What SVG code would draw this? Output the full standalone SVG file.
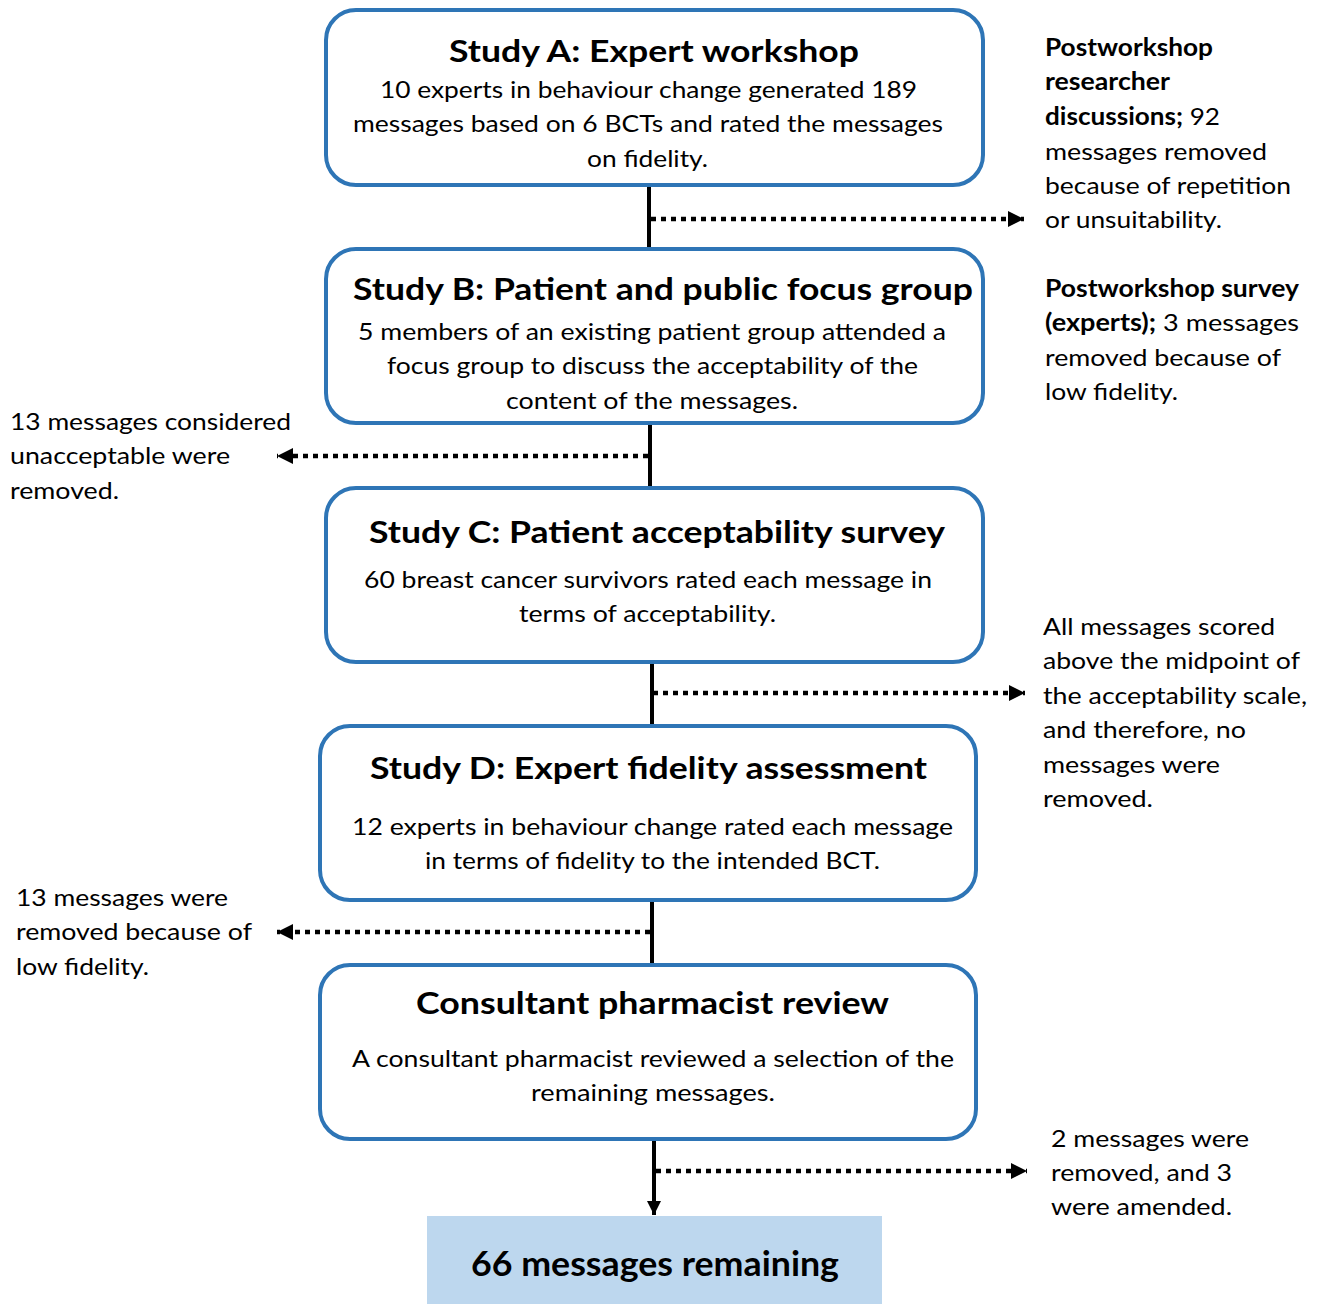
<svg xmlns="http://www.w3.org/2000/svg" width="1321" height="1304" viewBox="0 0 1321 1304">
<defs>
<style>
.box{fill:#fff;stroke:#2E75B6;stroke-width:4}
.final{fill:#BDD7EE;stroke:none}
text{font-family:Lato,"Open Sans","Liberation Sans",sans-serif;fill:#000}
.t{font-size:31px;font-weight:bold;text-anchor:middle}
.b{font-size:24px;text-anchor:middle}
.s{font-size:24px}
.bd{font-weight:bold}
.f{font-size:34px;font-weight:bold;text-anchor:middle}
.solid{stroke:#000;stroke-width:4;fill:none}
.dot{stroke:#000;stroke-width:4.5;fill:none;stroke-dasharray:5 5}
</style>
<marker id="ah" viewBox="0 0 10 10" refX="10" refY="5" markerWidth="3.6" markerHeight="3.6" orient="auto" markerUnits="strokeWidth">
<path d="M0,0 L10,5 L0,10 z" fill="#000"/>
</marker>
</defs>

<g id="connectors">
<line class="solid" x1="649" y1="185" x2="649" y2="249"/>
<line class="solid" x1="650" y1="423" x2="650" y2="488"/>
<line class="solid" x1="652" y1="662" x2="652" y2="726"/>
<line class="solid" x1="652" y1="900" x2="652" y2="965"/>
<line class="solid" x1="654" y1="1139" x2="654" y2="1215" marker-end="url(#ah)"/>
<line class="dot" x1="651" y1="219" x2="1024" y2="219" marker-end="url(#ah)"/>
<line class="dot" x1="648" y1="456" x2="277" y2="456" marker-end="url(#ah)"/>
<line class="dot" x1="653" y1="693" x2="1025" y2="693" marker-end="url(#ah)"/>
<line class="dot" x1="650" y1="932" x2="277" y2="932" marker-end="url(#ah)"/>
<line class="dot" x1="656" y1="1171" x2="1027" y2="1171" marker-end="url(#ah)"/>
</g>

<g id="studyA">
<rect class="box" x="326" y="10" width="657" height="175" rx="30"/>
<text class="t" x="654" y="62" textLength="410" lengthAdjust="spacingAndGlyphs">Study A: Expert workshop</text>
<text class="b" x="648.5" y="98" textLength="537" lengthAdjust="spacingAndGlyphs">10 experts in behaviour change generated 189</text>
<text class="b" x="648" y="132" textLength="590" lengthAdjust="spacingAndGlyphs">messages based on 6 BCTs and rated the messages</text>
<text class="b" x="647.5" y="167" textLength="121" lengthAdjust="spacingAndGlyphs">on fidelity.</text>
</g>

<g id="studyB">
<rect class="box" x="326" y="249" width="657" height="174" rx="30"/>
<text class="t" x="663" y="300" textLength="620" lengthAdjust="spacingAndGlyphs">Study B: Patient and public focus group</text>
<text class="b" x="652" y="340" textLength="588" lengthAdjust="spacingAndGlyphs">5 members of an existing patient group attended a</text>
<text class="b" x="652.5" y="374" textLength="531" lengthAdjust="spacingAndGlyphs">focus group to discuss the acceptability of the</text>
<text class="b" x="652" y="409" textLength="292" lengthAdjust="spacingAndGlyphs">content of the messages.</text>
</g>

<g id="studyC">
<rect class="box" x="326" y="488" width="657" height="174" rx="30"/>
<text class="t" x="657" y="543" textLength="576" lengthAdjust="spacingAndGlyphs">Study C: Patient acceptability survey</text>
<text class="b" x="648" y="588" textLength="568" lengthAdjust="spacingAndGlyphs">60 breast cancer survivors rated each message in</text>
<text class="b" x="647.5" y="622" textLength="257" lengthAdjust="spacingAndGlyphs">terms of acceptability.</text>
</g>

<g id="studyD">
<rect class="box" x="320" y="726" width="656" height="174" rx="30"/>
<text class="t" x="648.5" y="779" textLength="557" lengthAdjust="spacingAndGlyphs">Study D: Expert fidelity assessment</text>
<text class="b" x="652.5" y="835" textLength="601" lengthAdjust="spacingAndGlyphs">12 experts in behaviour change rated each message</text>
<text class="b" x="652.5" y="869" textLength="455" lengthAdjust="spacingAndGlyphs">in terms of fidelity to the intended BCT.</text>
</g>

<g id="review">
<rect class="box" x="320" y="965" width="656" height="174" rx="30"/>
<text class="t" x="652.5" y="1014" textLength="473" lengthAdjust="spacingAndGlyphs">Consultant pharmacist review</text>
<text class="b" x="653" y="1067" textLength="602" lengthAdjust="spacingAndGlyphs">A consultant pharmacist reviewed a selection of the</text>
<text class="b" x="653" y="1101" textLength="244" lengthAdjust="spacingAndGlyphs">remaining messages.</text>
</g>

<g id="remaining">
<rect class="final" x="427" y="1216" width="455" height="88"/>
<text class="f" x="655" y="1276" textLength="368" lengthAdjust="spacingAndGlyphs">66 messages remaining</text>
</g>

<g id="noteA">
<text class="s bd" x="1045" y="56" textLength="168" lengthAdjust="spacingAndGlyphs">Postworkshop</text>
<text class="s bd" x="1045" y="90" textLength="125" lengthAdjust="spacingAndGlyphs">researcher</text>
<text class="s" x="1045" y="125" textLength="175" lengthAdjust="spacingAndGlyphs"><tspan class="bd">discussions;</tspan> 92</text>
<text class="s" x="1045" y="160" textLength="222" lengthAdjust="spacingAndGlyphs">messages removed</text>
<text class="s" x="1045" y="194" textLength="246" lengthAdjust="spacingAndGlyphs">because of repetition</text>
<text class="s" x="1045" y="228" textLength="177" lengthAdjust="spacingAndGlyphs">or unsuitability.</text>
<text class="s bd" x="1045" y="297" textLength="254" lengthAdjust="spacingAndGlyphs">Postworkshop survey</text>
<text class="s" x="1045" y="331" textLength="254" lengthAdjust="spacingAndGlyphs"><tspan class="bd">(experts);</tspan> 3 messages</text>
<text class="s" x="1045" y="366" textLength="236" lengthAdjust="spacingAndGlyphs">removed because of</text>
<text class="s" x="1045" y="400" textLength="133" lengthAdjust="spacingAndGlyphs">low fidelity.</text>
</g>

<g id="noteB">
<text class="s" x="10" y="430" textLength="281" lengthAdjust="spacingAndGlyphs">13 messages considered</text>
<text class="s" x="10" y="464" textLength="220" lengthAdjust="spacingAndGlyphs">unacceptable were</text>
<text class="s" x="10" y="499" textLength="109" lengthAdjust="spacingAndGlyphs">removed.</text>
</g>

<g id="noteC">
<text class="s" x="1043" y="635" textLength="232" lengthAdjust="spacingAndGlyphs">All messages scored</text>
<text class="s" x="1043" y="669" textLength="257" lengthAdjust="spacingAndGlyphs">above the midpoint of</text>
<text class="s" x="1043" y="704" textLength="264" lengthAdjust="spacingAndGlyphs">the acceptability scale,</text>
<text class="s" x="1043" y="738" textLength="203" lengthAdjust="spacingAndGlyphs">and therefore, no</text>
<text class="s" x="1043" y="773" textLength="177" lengthAdjust="spacingAndGlyphs">messages were</text>
<text class="s" x="1043" y="807" textLength="110" lengthAdjust="spacingAndGlyphs">removed.</text>
</g>

<g id="noteD">
<text class="s" x="16" y="906" textLength="212" lengthAdjust="spacingAndGlyphs">13 messages were</text>
<text class="s" x="16" y="940" textLength="236" lengthAdjust="spacingAndGlyphs">removed because of</text>
<text class="s" x="16" y="975" textLength="133" lengthAdjust="spacingAndGlyphs">low fidelity.</text>
</g>

<g id="noteE">
<text class="s" x="1051" y="1147" textLength="198" lengthAdjust="spacingAndGlyphs">2 messages were</text>
<text class="s" x="1051" y="1181" textLength="181" lengthAdjust="spacingAndGlyphs">removed, and 3</text>
<text class="s" x="1051" y="1215" textLength="181" lengthAdjust="spacingAndGlyphs">were amended.</text>
</g>
</svg>
